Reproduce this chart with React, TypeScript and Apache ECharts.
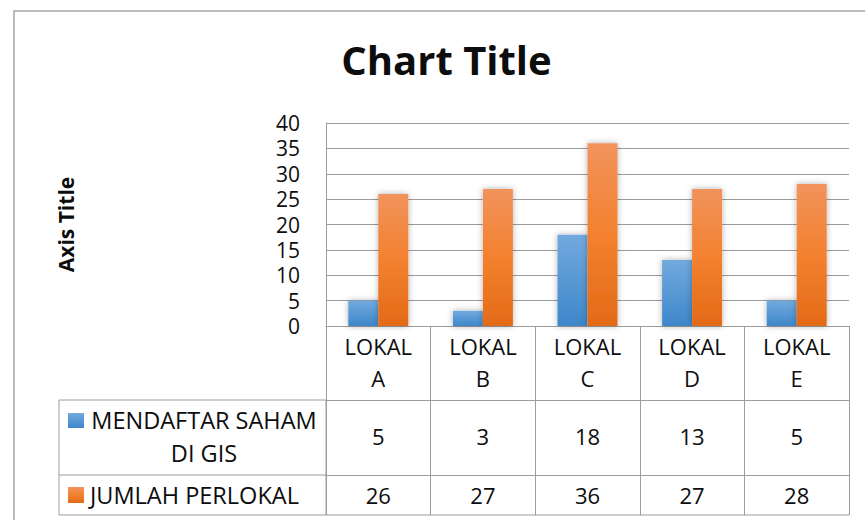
import React, { useEffect, useRef } from "react";
import * as echarts from "echarts";

// ---- data ----
const categories = ["LOKAL A", "LOKAL B", "LOKAL C", "LOKAL D", "LOKAL E"];
const seriesNames = ["MENDAFTAR SAHAM DI GIS", "JUMLAH PERLOKAL"];
const mendaftarSaham = [5, 3, 18, 13, 5];
const jumlahPerlokal = [26, 27, 36, 27, 28];
const yMin = 0;
const yMax = 40;
const yInterval = 5;
const chartTitle = "Chart Title";
const axisTitle = "Axis Title";

// ---- layout ----
const W = 865;
const H = 520;
const GRID_LEFT = 326;
const GRID_RIGHT = 849;
const GRID_TOP = 123;
const GRID_BOTTOM = 326;
const ROW0_BOTTOM = 400; // header row (categories)
const ROW1_BOTTOM = 475;
const ROW2_BOTTOM = 515;
const TABLE_LEFT = 59;
const FONT = "'Open Sans', 'Noto Sans', sans-serif";
const GRAY = "#9c9c9c";
const TEXT = "#0d0d0d";

const blueGrad = () =>
  new echarts.graphic.LinearGradient(0, 0, 0, 1, [
    { offset: 0, color: "#72a9de" },
    { offset: 1, color: "#3e87ca" },
  ]);
const orangeGrad = () =>
  new echarts.graphic.LinearGradient(0, 0, 0, 1, [
    { offset: 0, color: "#f1935c" },
    { offset: 0.5, color: "#f3812f" },
    { offset: 1, color: "#e36a17" },
  ]);

export default function App() {
  const ref = useRef<HTMLDivElement>(null);
  useEffect(() => {
    if (!ref.current) return;
    const chart = echarts.init(ref.current, undefined, { renderer: "svg" });
    const tableAxis = (offset: number, tickLen: number, values: number[] | null, margin: number, lineHeight: number) => ({
      type: "category",
      gridIndex: 0,
      position: "bottom",
      offset,
      data: categories,
      axisLine: { show: true, lineStyle: { color: GRAY, width: 1 } },
      axisTick: { show: true, length: tickLen, interval: 0, lineStyle: { color: GRAY, width: 1 } },
      axisLabel: {
        interval: 0,
        margin,
        fontSize: 22,
        fontFamily: FONT,
        color: TEXT,
        lineHeight,
        formatter: (v: string, i: number) => (values ? String(values[i]) : v.replace(" ", "\n")),
      },
      splitLine: { show: false },
    });
    chart.setOption({
      animation: false,
      backgroundColor: "#ffffff",
      title: {
        text: chartTitle,
        left: 446.5,
        top: 39,
        padding: 0,
        textAlign: "center",
        textStyle: { fontSize: 40, fontWeight: "bold", fontFamily: FONT, color: TEXT, lineHeight: 40 },
      },
      grid: {
        left: GRID_LEFT,
        right: W - GRID_RIGHT,
        top: GRID_TOP,
        bottom: H - GRID_BOTTOM,
        containLabel: false,
      },
      xAxis: [
        tableAxis(0, ROW0_BOTTOM - GRID_BOTTOM, null, 4, 32),
        tableAxis(ROW0_BOTTOM - GRID_BOTTOM, ROW1_BOTTOM - ROW0_BOTTOM, mendaftarSaham, 21, 30),
        tableAxis(ROW1_BOTTOM - GRID_BOTTOM, ROW2_BOTTOM - ROW1_BOTTOM, jumlahPerlokal, 5, 30),
      ],
      yAxis: {
        type: "value",
        min: yMin,
        max: yMax,
        interval: yInterval,
        name: axisTitle,
        nameLocation: "middle",
        nameRotate: 90,
        nameGap: 250,
        nameTextStyle: { fontSize: 21, fontWeight: "bold", fontFamily: FONT, color: TEXT, lineHeight: 21 },
        axisLine: { show: true, lineStyle: { color: GRAY, width: 1 } },
        axisTick: { show: false },
        axisLabel: { margin: 26, fontSize: 21, fontFamily: FONT, color: TEXT },
        splitLine: { show: true, lineStyle: { color: GRAY, width: 1 } },
      },
      series: [
        {
          name: seriesNames[0],
          type: "bar",
          xAxisIndex: 0,
          data: mendaftarSaham,
          barWidth: 30,
          barGap: "0%",
          itemStyle: {
            color: blueGrad(),
            shadowBlur: 6,
            shadowColor: "rgba(0,0,0,0.3)",
          },
        },
        {
          name: seriesNames[1],
          type: "bar",
          xAxisIndex: 0,
          data: jumlahPerlokal,
          barWidth: 30,
          barGap: "0%",
          itemStyle: {
            color: orangeGrad(),
            shadowBlur: 6,
            shadowColor: "rgba(0,0,0,0.3)",
          },
        },
      ],
      graphic: [
        {
          type: "rect",
          shape: { x: 14, y: 11, width: W + 50, height: H + 50 },
          style: { fill: "none", stroke: "#a6a6a6", lineWidth: 1.5 },
          silent: true,
          z: -1,
        },
        {
          type: "rect",
          shape: { x: TABLE_LEFT, y: ROW0_BOTTOM, width: GRID_LEFT - TABLE_LEFT, height: ROW2_BOTTOM - ROW0_BOTTOM },
          style: { fill: "none", stroke: GRAY, lineWidth: 1 },
          silent: true,
        },
        {
          type: "line",
          shape: { x1: TABLE_LEFT, y1: ROW1_BOTTOM, x2: GRID_LEFT, y2: ROW1_BOTTOM },
          style: { stroke: GRAY, lineWidth: 1 },
          silent: true,
        },
        {
          type: "line",
          shape: { x1: GRID_LEFT, y1: ROW2_BOTTOM, x2: GRID_RIGHT, y2: ROW2_BOTTOM },
          style: { stroke: GRAY, lineWidth: 1 },
          silent: true,
        },
        {
          type: "rect",
          shape: { x: 68, y: 413, width: 16, height: 15 },
          style: { fill: blueGrad() },
          silent: true,
        },
        {
          type: "text",
          style: {
            text: "MENDAFTAR SAHAM\nDI GIS",
            x: 204,
            y: 436,
            align: "center",
            verticalAlign: "middle",
            fontSize: 23.5,
            fontFamily: FONT,
            lineHeight: 33,
            fill: TEXT,
          },
          silent: true,
        },
        {
          type: "rect",
          shape: { x: 68, y: 487, width: 16, height: 16 },
          style: { fill: orangeGrad() },
          silent: true,
        },
        {
          type: "text",
          style: {
            text: seriesNames[1],
            x: 90,
            y: 494.5,
            align: "left",
            verticalAlign: "middle",
            fontSize: 23.5,
            fontFamily: FONT,
            lineHeight: 30,
            fill: TEXT,
          },
          silent: true,
        },
      ],
    });
    return () => chart.dispose();
  }, []);
  return (
    <div
      ref={ref}
      style={{ position: "fixed", left: 0, top: 0, width: W, height: H, background: "#fff" }}
    />
  );
}
